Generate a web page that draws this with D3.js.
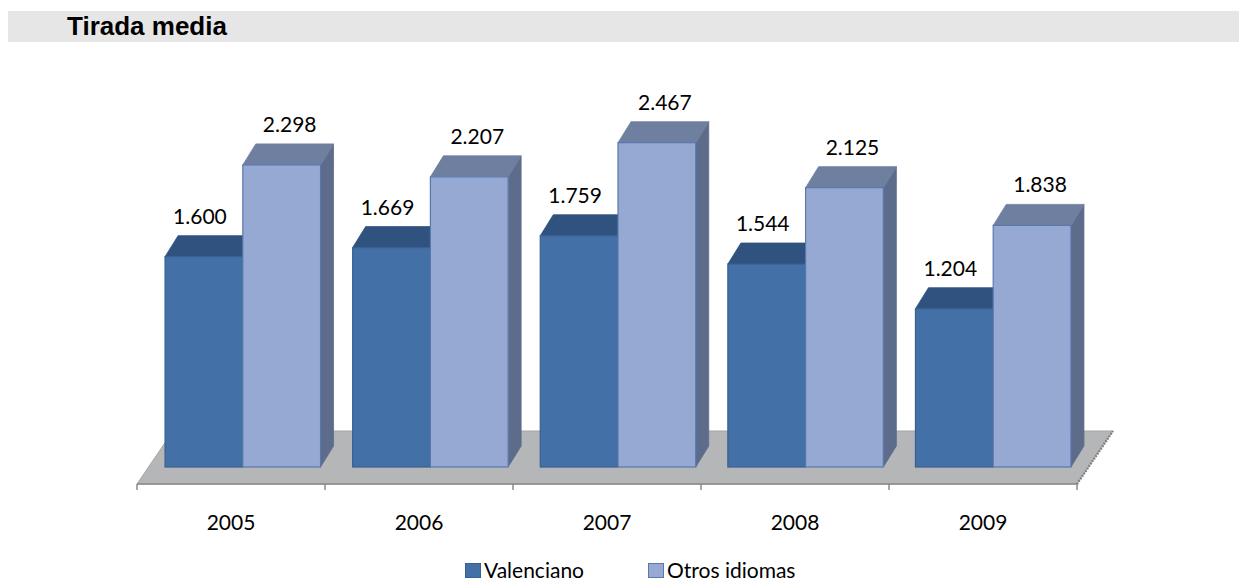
<!DOCTYPE html>
<html><head><meta charset="utf-8">
<script src="https://cdn.jsdelivr.net/npm/d3@7"></script>
<style>body{margin:0;background:#fff}svg{display:block}</style>
</head><body>
<svg id="c" width="1239" height="582"></svg>
<script>
const years = ["2005","2006","2007","2008","2009"];
const seriesNames = ["Valenciano","Otros idiomas"];
const valenciano = [1600,1669,1759,1544,1204];
const otros = [2298,2207,2467,2125,1838];
const labelsV = ["1.600","1.669","1.759","1.544","1.204"];
const labelsO = ["2.298","2.207","2.467","2.125","1.838"];
const title = "Tirada media";

const svg = d3.select("#c");
const font = "Lato, 'Liberation Sans', Arial, sans-serif";

// title bar
svg.append("rect").attr("x",8).attr("y",11).attr("width",1231).attr("height",31).attr("fill","#e6e6e6");
svg.append("text").attr("x",67).attr("y",35).text(title)
  .attr("font-family","'Liberation Sans', Arial, sans-serif").attr("font-weight","bold").attr("font-size",26).attr("fill","#000");

const x = d3.scaleBand().domain(years).range([149,1087]).padding(0);
const x1 = d3.scaleBand().domain(seriesNames).range([0,x.bandwidth()]).paddingInner(0).paddingOuter(0.2065);
const y = d3.scaleLinear().domain([0,2500]).range([467,138.35]);
const xa = d3.scaleBand().domain(years).range([137,1077]);

// floor
const fdx = 36, fdy = -53, fy = 484;
svg.append("polygon")
  .attr("points",[[137,fy],[1077,fy],[1077+fdx,fy+fdy],[137+fdx,fy+fdy]].map(p=>p.join(",")).join(" "))
  .attr("fill","#b5b6b8").attr("stroke","#a3a4a6").attr("stroke-width",1);
svg.append("line").attr("x1",1077).attr("y1",fy).attr("x2",1077+fdx).attr("y2",fy+fdy)
  .attr("stroke","#7d7d7d").attr("stroke-width",2.5).attr("stroke-dasharray","1.5,1.5");

// axis
svg.append("line").attr("x1",137).attr("x2",1077).attr("y1",fy).attr("y2",fy).attr("stroke","#8a8a8a").attr("stroke-width",1.5);
const bounds = years.map(d=>xa(d)).concat([xa.range()[1]]);
svg.selectAll(".tk").data(bounds).join("line")
  .attr("x1",d=>d).attr("x2",d=>d).attr("y1",fy).attr("y2",fy+6).attr("stroke","#8a8a8a").attr("stroke-width",1.5);
svg.selectAll(".cat").data(years).join("text")
  .attr("x",d=>xa(d)+xa.bandwidth()/2).attr("y",530).attr("text-anchor","middle")
  .attr("font-family",font).attr("font-size",21).attr("fill","#000").text(d=>d);

// bars
const dx = 13, dy = -21;
const styles = {
  "Valenciano": {front:"#4470a8", top:"#30527f", side:"#2d4b75", edge:"#3a5f91", dxl:-4},
  "Otros idiomas": {front:"#95a9d3", top:"#6e7fa0", side:"#5d6c8a", edge:"#5a78ad", dxl:8}
};
const data = [];
years.forEach((yr,i)=>{
  data.push({year:yr, s:"Valenciano", v:valenciano[i], lab:labelsV[i]});
  data.push({year:yr, s:"Otros idiomas", v:otros[i], lab:labelsO[i]});
});
const base = y(0);
const g = svg.append("g");
data.forEach(d=>{
  const st = styles[d.s];
  const x0 = x(d.year)+x1(d.s), w = x1.bandwidth(), t = y(d.v);
  const pts = a=>a.map(p=>p.join(",")).join(" ");
  g.append("polygon").attr("points",pts([[x0+w,t],[x0+w+dx,t+dy],[x0+w+dx,base+dy],[x0+w,base]]))
    .attr("fill",st.side).attr("stroke",st.side).attr("stroke-width",0.8);
  g.append("polygon").attr("points",pts([[x0,t],[x0+w,t],[x0+w+dx,t+dy],[x0+dx,t+dy]]))
    .attr("fill",st.top).attr("stroke",st.top).attr("stroke-width",0.8);
  g.append("rect").attr("x",x0).attr("y",t).attr("width",w).attr("height",base-t)
    .attr("fill",st.front).attr("stroke",st.edge).attr("stroke-width",1.2);
  g.append("text").attr("x",x0+w/2+st.dxl).attr("y",t-33).attr("text-anchor","middle")
    .attr("font-family",font).attr("font-size",21).attr("fill","#000").text(d.lab);
});

// legend
const leg = [{s:"Valenciano", x:465}, {s:"Otros idiomas", x:648}];
leg.forEach(l=>{
  const st = styles[l.s];
  svg.append("rect").attr("x",l.x+0.5).attr("y",563.5).attr("width",15).attr("height",14)
    .attr("fill",st.front).attr("stroke",st.edge).attr("stroke-width",1);
  svg.append("text").attr("x",l.x+19).attr("y",578).attr("font-family",font).attr("font-size",21)
    .attr("fill","#000").text(l.s);
});
</script>
</body></html>
